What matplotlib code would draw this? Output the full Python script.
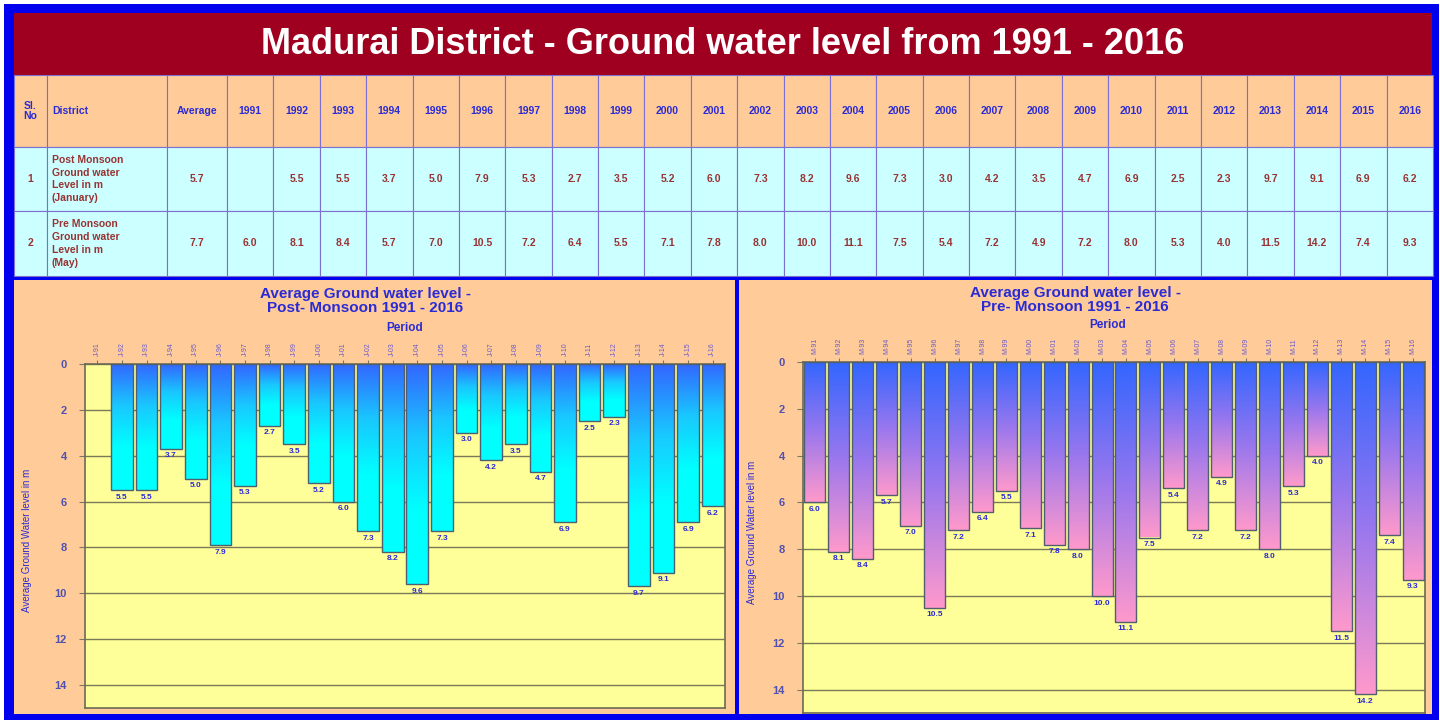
import numpy as np
import matplotlib
matplotlib.use('Agg')
import matplotlib.pyplot as plt
from matplotlib.patches import Rectangle
from matplotlib.colors import LinearSegmentedColormap

plt.rcParams['font.family'] = ['Liberation Sans', 'DejaVu Sans']

# Data
years = list(range(1991, 2017))
post_monsoon = [None, 5.5, 5.5, 3.7, 5.0, 7.9, 5.3, 2.7, 3.5, 5.2, 6.0, 7.3, 8.2,
                9.6, 7.3, 3.0, 4.2, 3.5, 4.7, 6.9, 2.5, 2.3, 9.7, 9.1, 6.9, 6.2]
pre_monsoon = [6.0, 8.1, 8.4, 5.7, 7.0, 10.5, 7.2, 6.4, 5.5, 7.1, 7.8, 8.0, 10.0,
               11.1, 7.5, 5.4, 7.2, 4.9, 7.2, 8.0, 5.3, 4.0, 11.5, 14.2, 7.4, 9.3]
averages = [5.7, 7.7]
row_names = ["Post Monsoon\nGround water\nLevel in m\n(January)",
             "Pre Monsoon\nGround water\nLevel in m\n(May)"]
post_ticks = [f"J-{y % 100:02d}" for y in years]
pre_ticks = [f"M-{y % 100:02d}" for y in years]

W, H = 1440, 721
BLUE = '#0000EE'
ORANGE = '#FFCC99'
CYAN = '#CCFFFF'
YELLOW = '#FFFF99'
TXT_BLUE = '#2B2BD6'
TXT_RED = '#993333'
GRID = '#7A7A5A'

fig = plt.figure(figsize=(W / 100, H / 100), dpi=100)
fig.patch.set_facecolor('white')

bg = fig.add_axes([0, 0, 1, 1])
bg.set_xlim(0, W)
bg.set_ylim(H, 0)
bg.axis('off')


def rect(x0, y0, x1, y1, **kw):
    bg.add_patch(Rectangle((x0, y0), x1 - x0, y1 - y0, **kw))


# frame + title band
rect(4, 4, 1439, 720, facecolor=BLUE, edgecolor='none')
rect(14, 13, 1432, 75, facecolor='#A0001F', edgecolor='none')
bg.text(723, 45, "Madurai District - Ground water level from 1991 - 2016",
        color='white', fontsize=26, fontweight='bold', ha='center', va='center')

# table
col_edges = [14, 47, 167, 227] + [227 + 46.38 * k for k in range(1, 27)]
row_edges = [75, 147, 211, 276]
line_col = '#7B6FD0'
for r in range(3):
    fc = ORANGE if r == 0 else CYAN
    for c in range(len(col_edges) - 1):
        rect(col_edges[c], row_edges[r], col_edges[c + 1], row_edges[r + 1],
             facecolor=fc, edgecolor=line_col, lw=0.8)

hdr = ["Sl.\nNo", "District", "Average"] + [str(y) for y in years]
for c, t in enumerate(hdr):
    yc = (row_edges[0] + row_edges[1]) / 2
    if c == 1:
        bg.text(col_edges[1] + 5, yc, t, color=TXT_BLUE, fontsize=7.5,
                fontweight='bold', ha='left', va='center')
    else:
        bg.text((col_edges[c] + col_edges[c + 1]) / 2, yc, t, color=TXT_BLUE,
                fontsize=7.5, fontweight='bold', ha='center', va='center',
                linespacing=1.0)

for r, (vals, avg) in enumerate([(post_monsoon, averages[0]), (pre_monsoon, averages[1])]):
    yc = (row_edges[r + 1] + row_edges[r + 2]) / 2
    bg.text((col_edges[0] + col_edges[1]) / 2, yc, str(r + 1), color=TXT_RED,
            fontsize=7.5, fontweight='bold', ha='center', va='center')
    bg.text(col_edges[1] + 5, yc, row_names[r], color=TXT_RED, fontsize=7.5,
            fontweight='bold', ha='left', va='center', linespacing=1.35)
    bg.text((col_edges[2] + col_edges[3]) / 2, yc, f"{avg:.1f}", color=TXT_RED,
            fontsize=7.5, fontweight='bold', ha='center', va='center')
    for k, v in enumerate(vals):
        if v is None:
            continue
        bg.text((col_edges[3 + k] + col_edges[4 + k]) / 2, yc, f"{v:.1f}",
                color=TXT_RED, fontsize=7.5, fontweight='bold', ha='center', va='center')

# chart panels
rect(14, 280, 735, 714, facecolor=ORANGE, edgecolor='none')
rect(739, 280, 1432, 714, facecolor=ORANGE, edgecolor='none')

bg.text(365, 301, "Average Ground water level -\nPost- Monsoon 1991 - 2016",
        color=TXT_BLUE, fontsize=11, fontweight='bold', ha='center', va='center',
        linespacing=1.0)
bg.text(405, 328, "Period", color=TXT_BLUE, fontsize=8.5, fontweight='bold',
        ha='center', va='center')
bg.text(1075, 300, "Average Ground water level -\nPre- Monsoon 1991 - 2016",
        color=TXT_BLUE, fontsize=11, fontweight='bold', ha='center', va='center',
        linespacing=1.0)
bg.text(1108, 325, "Period", color=TXT_BLUE, fontsize=8.5, fontweight='bold',
        ha='center', va='center')
bg.text(27, 540, "Average Ground Water level in m", color=TXT_BLUE, fontsize=7,
        rotation=90, ha='center', va='center')
bg.text(752, 532, "Average Ground Water level in m", color=TXT_BLUE, fontsize=7,
        rotation=90, ha='center', va='center')


def px_axes(x0, y0, x1, y1):
    return fig.add_axes([x0 / W, 1 - y1 / H, (x1 - x0) / W, (y1 - y0) / H])


def bar_chart(ax, values, ticks, cmap):
    ax.set_facecolor(YELLOW)
    for yv in range(0, 16, 2):
        ax.axhline(yv, color=GRID, lw=1, zorder=1)
    grad = np.linspace(0, 1, 128).reshape(-1, 1)
    w = 0.88
    for i, v in enumerate(values):
        if v is None:
            continue
        ax.imshow(grad, extent=(i - w / 2, i + w / 2, v, 0), aspect='auto',
                  cmap=cmap, zorder=2, interpolation='bilinear')
        ax.bar(i, v, width=w, fill=False, edgecolor='#4F5F6F', lw=1.0, zorder=3)
        ax.text(i, v + 0.15, f"{v:.1f}", color=TXT_BLUE, fontsize=6,
                fontweight='bold', ha='center', va='top', zorder=4)
    ax.set_xlim(-0.5, len(values) - 0.5)
    ax.set_ylim(15, 0)
    ax.set_yticks(range(0, 16, 2))
    ax.set_xticks(range(len(values)))
    ax.set_xticklabels(ticks, rotation=90, fontsize=5, color='#6A5ACD')
    ax.xaxis.tick_top()
    ax.tick_params(axis='x', length=3, color=GRID, pad=3)
    ax.tick_params(axis='y', length=4, color=GRID, labelsize=8, labelcolor='#5050B0', pad=9)
    for lbl in ax.get_yticklabels():
        lbl.set_fontweight('bold')
    for s in ax.spines.values():
        s.set_color('#6B6B55')
        s.set_linewidth(1.2)


cmap_post = LinearSegmentedColormap.from_list('post', ['#3366FF', '#19C8FF', '#00FFFF', '#00FFFF'])
cmap_pre = LinearSegmentedColormap.from_list('pre', ['#3366FF', '#9977EE', '#FF99CC'])

ax1 = px_axes(85, 364, 725, 708)
bar_chart(ax1, post_monsoon, post_ticks, cmap_post)
ax2 = px_axes(803, 362, 1425, 713)
bar_chart(ax2, pre_monsoon, pre_ticks, cmap_pre)

fig.savefig('out.png', dpi=100)
